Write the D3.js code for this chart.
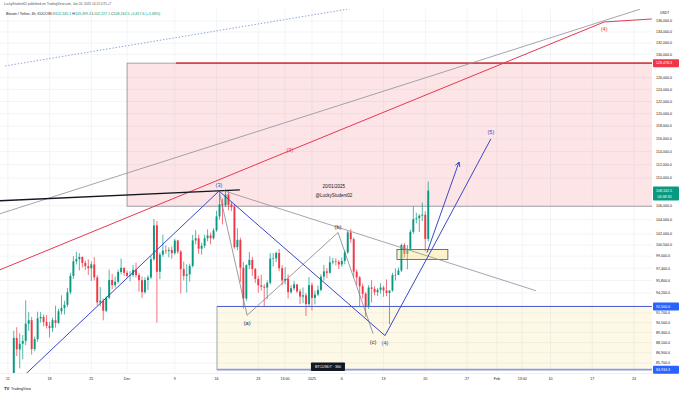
<!DOCTYPE html>
<html lang="en">
<head>
<meta charset="UTF-8">
<title>BTCUSDT 4h - wave count</title>
<script src="https://cdn.jsdelivr.net/npm/d3@7"></script>
<style>
  body { margin: 0; background: #fff; overflow: hidden; }
  svg { display: block; font-family: "Liberation Sans", Arial, sans-serif; }
</style>
</head>
<body>
<svg id="chart" width="680" height="394"></svg>
<script>
// 12h candles, first bar opens Nov 11 12:00 (chart time, UTC+7)
const candleStart = Date.UTC(2024, 10, 11, 12);
const candleStep = 12 * 3600 * 1000;

const candleOpen = [
  80370, 81900, 88648, 87300, 87952, 88300, 90375, 90800, 87325, 88500,
  91032, 91200, 90586, 90100, 89855, 90800, 90464, 91900, 92310, 92700,
  94286, 96400, 98317, 98600, 98892, 98100, 97673, 97400, 97900, 96200,
  93010, 93200, 91965, 93600, 95863, 95200, 95643, 96900, 97460, 96800,
  96407, 96500, 97185, 96500, 95840, 94300, 95865, 96200, 98587, 103200,
  96945, 99200, 99741, 99700, 99831, 99400, 101109, 99600, 97277, 96400,
  96594, 97700, 101125, 101400, 100004, 100400, 101424, 101800, 101420, 102500,
  104463, 106200, 106058, 107600, 106133, 105800, 100204, 101200, 97461, 93500,
  97805, 98500, 97291, 96000, 95186, 95000, 94881, 95500, 98663, 98700,
  99430, 97400, 95792, 96000, 94299, 94800, 95300, 94400, 93738, 93900,
  92792, 95200, 93576, 94000, 94591, 96300, 96984, 96800, 98174, 98300,
  98236, 97900, 98363, 99500, 102235, 101300, 96954, 96200, 95060, 94100,
  92552, 94900, 94726, 94300, 94599, 94900, 94511, 94200, 94519, 96500,
  96534, 97100, 100504, 99300, 99987, 102300, 104077, 104200, 104556, 104700,
  101335
];
const candleHigh = [
  82500, 89530, 89940, 89200, 89000, 93265, 91790, 91200, 88800, 91850,
  91779, 91500, 91449, 90600, 91100, 92594, 92200, 93905, 93200, 94831,
  96800, 98988, 99588, 99400, 98960, 98400, 98565, 98300, 98871, 96500,
  94973, 93500, 93800, 97208, 96650, 96300, 97200, 98693, 97463, 97100,
  97000, 97836, 98130, 96800, 96305, 96200, 96500, 99000, 104088, 103800,
  99500, 101898, 100439, 100200, 100300, 101351, 101215, 99800, 98270, 97900,
  98000, 101888, 102540, 101900, 100800, 101895, 102650, 102200, 102800, 105250,
  107793, 107000, 108353, 108100, 106525, 106200, 102800, 101500, 98233, 97900,
  99540, 98900, 97448, 96400, 96538, 95300, 95800, 99416, 99400, 99569,
  99963, 97800, 97544, 96600, 95200, 95757, 95300, 94700, 94903, 94200,
  96250, 95500, 94500, 95151, 96600, 97839, 97400, 98976, 98778, 98700,
  98500, 98813, 99800, 102480, 102724, 101500, 97259, 96400, 95382, 94300,
  95200, 95837, 95050, 94800, 95450, 95100, 95940, 94500, 96800, 97371,
  97500, 100681, 100782, 100500, 102600, 105865, 104988, 104800, 106422, 105200,
  109499
];
const candleLow = [
  80216, 81500, 86500, 85072, 86127, 87800, 89500, 86668, 87073, 88200,
  90500, 90056, 89800, 88722, 89376, 89900, 90357, 91500, 91500, 92400,
  94020, 96000, 97900, 97122, 97500, 97156, 96500, 95734, 95800, 92600,
  92500, 90791, 91792, 93400, 94677, 94900, 95407, 96600, 96400, 96150,
  95693, 96300, 96200, 94395, 93578, 94100, 94587, 96000, 98400, 90500,
  95981, 98900, 99300, 98844, 98657, 99200, 99300, 94150, 95800, 94256,
  95658, 97500, 100600, 99311, 99205, 100100, 101000, 100610, 101237, 102300,
  104000, 103333, 105800, 105321, 105200, 100000, 99800, 95587, 92232, 93200,
  97300, 96398, 95500, 94250, 94500, 92520, 93400, 95300, 97632, 98200,
  97000, 95199, 95300, 93500, 94110, 94500, 94200, 92800, 92900, 91317,
  92500, 92000, 92742, 93800, 94392, 95800, 96100, 96700, 97900, 97781,
  97291, 97600, 97920, 99300, 100800, 96181, 95200, 92500, 93500, 91203,
  92206, 93000, 93900, 93831, 94100, 93712, 93800, 90300, 94346, 95800,
  96500, 96900, 98800, 97266, 99950, 102000, 103500, 102277, 103800, 99651,
  101000
];
const candleClose = [
  81900, 88648, 87300, 87952, 88300, 90375, 90800, 87325, 88500, 91032,
  91200, 90586, 90100, 89855, 90800, 90464, 91900, 92310, 92700, 94286,
  96400, 98317, 98600, 98892, 98100, 97673, 97400, 97900, 96200, 93010,
  93200, 91965, 93600, 95863, 95200, 95643, 96900, 97460, 96800, 96407,
  96500, 97185, 96500, 95840, 94300, 95865, 96200, 98587, 103200, 96945,
  99200, 99741, 99700, 99831, 99400, 101109, 99600, 97277, 96400, 96594,
  97700, 101125, 101400, 100004, 100400, 101424, 101800, 101420, 102500, 104463,
  106200, 106058, 107600, 106133, 105800, 100204, 101200, 97461, 93500, 97805,
  98500, 97291, 96000, 95186, 95000, 94881, 95500, 98663, 98700, 99430,
  97400, 95792, 96000, 94299, 94800, 95300, 94400, 93738, 93900, 92792,
  95200, 93576, 94000, 94591, 96300, 96984, 96800, 98174, 98300, 98236,
  97900, 98363, 99500, 102235, 101300, 96954, 96200, 95060, 94100, 92552,
  94900, 94726, 94300, 94599, 94900, 94511, 94200, 94519, 96500, 96534,
  97100, 100504, 99300, 99987, 102300, 104077, 104200, 104556, 104700, 101335,
  108162.5
];

// axis labels
const priceTicks = [136000, 134000, 132000, 130000, 126000, 124000, 122000, 120000, 118000,
  116000, 114000, 112000, 110000, 106000, 104000, 102000, 100500, 99000, 97400, 95800,
  94200, 91700, 90500, 89300, 88100, 86900, 85700];
const timeTicks = [
  ["2024-11-11T00:00Z", "11"], ["2024-11-18T00:00Z", "18"], ["2024-11-25T00:00Z", "25"],
  ["2024-12-01T00:00Z", "Dec"], ["2024-12-09T00:00Z", "9"], ["2024-12-16T00:00Z", "16"],
  ["2024-12-23T00:00Z", "23"], ["2024-12-27T12:00Z", "13:00"], ["2025-01-01T00:00Z", "2025"],
  ["2025-01-06T00:00Z", "6"], ["2025-01-13T00:00Z", "13"], ["2025-01-20T00:00Z", "20"],
  ["2025-01-27T00:00Z", "27"], ["2025-02-01T00:00Z", "Feb"], ["2025-02-05T06:00Z", "13:00"],
  ["2025-02-10T00:00Z", "10"], ["2025-02-17T00:00Z", "17"], ["2025-02-24T00:00Z", "24"]
];
// price tags on the right scale: value, second line
const tagPrices = [128478.3, 108162.5, 92500, 84934.3];
const tagSub = ["", "04:38:33", "", ""];

// drawings: [time, price]
const impulsePts = [["2024-11-13T08:00Z", 84000], ["2024-12-16T10:00Z", 108100],
  ["2025-01-13T06:00Z", 88930], ["2025-01-20T11:00Z", 98960], ["2025-01-31T00:00Z", 115980]];
const impulseLabels = ["", "(3)", "(4)", "", "(5)"];
const abcPts = [["2024-12-16T10:00Z", 108100], ["2024-12-21T03:00Z", 91400],
  ["2025-01-05T09:00Z", 102210], ["2025-01-11T06:00Z", 89170]];
const abcLabels = ["", "(a)", "(b)", "(c)"];
const arrowPts = [["2025-01-20T07:00Z", 99490], ["2025-01-25T16:00Z", 112420]];
const redPts = [["2024-11-09T16:00Z", 97190], ["2024-12-28T07:00Z", 114160],
  ["2025-02-19T00:00Z", 135820], ["2025-02-27T00:00Z", 136370]];
const redLabels = ["", "(3)", "(4)", ""];
const greyTrend = [["2024-11-09T16:00Z", 104830], ["2025-02-25T00:00Z", 138180]];
const downTrend = [["2024-12-17T06:00Z", 108130], ["2025-02-07T14:00Z", 94480]];
const blackTrend = [["2024-11-09T16:00Z", 106690], ["2024-12-19T22:00Z", 108270]];
const dottedTrend = [["2024-11-10T13:00Z", 127990], ["2025-01-08T05:00Z", 138420]];

// zones: [start, end, low, high]
const sellZone = ["2024-12-01T00:00Z", "2025-03-10T00:00Z", 105900, 128478.3];
const buyZone = ["2024-12-16T02:00Z", "2025-03-10T00:00Z", 84934.3, 92500];
const smallBox = ["2025-01-15T06:00Z", "2025-01-23T19:00Z", 98570, 99900];
// horizontal rays: [start, price]
const rays = [["2024-12-09T05:00Z", 128478.3], ["2024-12-16T02:00Z", 92500], ["2024-12-16T02:00Z", 84934.3]];

const W = 680, H = 394;
const pane = { left: 0, right: 652, top: 9, bottom: 373 };
const T = s => new Date(s);
const up = "#089981", down = "#f23645", blue = "#3949c8";

const x = d3.scaleUtc()
  .domain([T("2024-11-11T00:00Z"), T("2025-02-24T00:00Z")])
  .range([7.8, 634]);
const y = d3.scaleLog()
  .domain([84550, 138220])
  .range([pane.bottom, pane.top]);

const svg = d3.select("#chart");
svg.append("rect").attr("width", W).attr("height", H).attr("fill", "#fff");
svg.append("defs").append("clipPath").attr("id", "pane").append("rect")
  .attr("x", pane.left).attr("y", pane.top)
  .attr("width", pane.right - pane.left).attr("height", pane.bottom - pane.top);

const g = svg.append("g").attr("clip-path", "url(#pane)");

// grid
g.selectAll("line.vgrid").data(timeTicks).join("line").attr("class", "vgrid")
  .attr("x1", d => x(T(d[0]))).attr("x2", d => x(T(d[0])))
  .attr("y1", pane.top).attr("y2", pane.bottom)
  .attr("stroke", "#eff1f5").attr("stroke-width", 0.8);
g.selectAll("line.hgrid").data(priceTicks).join("line").attr("class", "hgrid")
  .attr("x1", pane.left).attr("x2", pane.right)
  .attr("y1", d => y(d)).attr("y2", d => y(d))
  .attr("stroke", "#eff1f5").attr("stroke-width", 0.8);

// zones
function zone(z, fill, stroke) {
  g.append("rect")
    .attr("x", x(T(z[0]))).attr("y", y(z[3]))
    .attr("width", x(T(z[1])) - x(T(z[0])))
    .attr("height", y(z[2]) - y(z[3]))
    .attr("fill", fill).attr("stroke", stroke).attr("stroke-width", 0.8);
}
zone(sellZone, "rgba(242,54,69,0.13)", "#8f9199");
zone(buyZone, "rgba(251,200,60,0.13)", "#9598a1");

// candles
const candles = candleOpen.map((o, i) => ({
  t: new Date(candleStart + i * candleStep),
  o, h: candleHigh[i], l: candleLow[i], c: candleClose[i]
}));
const cg = g.append("g");
cg.selectAll("line.wick").data(candles).join("line").attr("class", "wick")
  .attr("x1", d => x(d.t)).attr("x2", d => x(d.t))
  .attr("y1", d => y(d.h)).attr("y2", d => y(d.l))
  .attr("stroke", d => d.c >= d.o ? up : down).attr("stroke-width", 0.7);
cg.selectAll("rect.body").data(candles).join("rect").attr("class", "body")
  .attr("x", d => x(d.t) - 0.95).attr("width", 1.9)
  .attr("y", d => y(Math.max(d.o, d.c)))
  .attr("height", d => Math.max(0.6, y(Math.min(d.o, d.c)) - y(Math.max(d.o, d.c))))
  .attr("fill", d => d.c >= d.o ? up : down);

zone(smallBox, "rgba(250,220,110,0.35)", "#50535e");

// rays
const rayColors = ["#d9424f", "#4c5fc9", "#8e9be0"];
const rayWidths = [1.6, 1, 1.6];
rays.forEach((r, i) => {
  g.append("line")
    .attr("x1", x(T(r[0]))).attr("x2", pane.right)
    .attr("y1", y(r[1])).attr("y2", y(r[1]))
    .attr("stroke", rayColors[i]).attr("stroke-width", rayWidths[i]);
});

// trend lines
const line = d3.line().x(d => x(T(d[0]))).y(d => y(d[1]));
function path(pts, color, width, dash) {
  g.append("path").attr("d", line(pts)).attr("fill", "none")
    .attr("stroke", color).attr("stroke-width", width)
    .attr("stroke-dasharray", dash || null);
}
path(dottedTrend, "#8aa3d6", 1, "1.4 1.8");
path(greyTrend, "#8c8f99", 0.8);
path(redPts, "#e8384f", 1);
path(blackTrend, "#131722", 1.3);
path(downTrend, "#8c8f99", 0.8);
path(abcPts, "#6f727c", 0.7);
path(impulsePts, blue, 1);
path(arrowPts, blue, 1);

// arrow head
const a0 = [x(T(arrowPts[0][0])), y(arrowPts[0][1])];
const a1 = [x(T(arrowPts[1][0])), y(arrowPts[1][1])];
const ang = Math.atan2(a1[1] - a0[1], a1[0] - a0[0]);
[0.5, -0.5].forEach(da => {
  g.append("line")
    .attr("x1", a1[0]).attr("y1", a1[1])
    .attr("x2", a1[0] - 5 * Math.cos(ang + da)).attr("y2", a1[1] - 5 * Math.sin(ang + da))
    .attr("stroke", blue).attr("stroke-width", 1);
});

// wave labels
function waveText(pts, labels, color, sides) {
  pts.forEach((p, i) => {
    if (!labels[i]) return;
    g.append("text")
      .attr("x", x(T(p[0]))).attr("y", y(p[1]) + sides[i])
      .attr("text-anchor", "middle").attr("font-size", 5.6)
      .attr("fill", color).text(labels[i]);
  });
}
waveText(impulsePts, impulseLabels, blue, [0, -4, 9.5, 0, -4.5]);
waveText(abcPts, abcLabels, "#2a2e39", [0, 10, -4, 10.5]);
waveText(redPts, redLabels, "#e8384f", [0, 1.5, 9.5, 0]);

// author note
const noteX = x(T("2025-01-04T16:00Z"));
g.append("text").attr("x", noteX).attr("y", y(108600)).attr("text-anchor", "middle")
  .attr("font-size", 4.5).attr("fill", "#131722").text("20/01/2025");
g.append("text").attr("x", noteX).attr("y", y(108600) + 9).attr("text-anchor", "middle")
  .attr("font-size", 4.5).attr("fill", "#131722").text("@LuckyStudent02");

// symbol badge
const bx = x(T("2024-12-31T20:00Z")), by = y(85760);
g.append("rect").attr("x", bx).attr("y", by).attr("width", 34).attr("height", 8.5)
  .attr("fill", "#131722").attr("rx", 0.8);
g.append("text").attr("x", bx + 17).attr("y", by + 5.9).attr("text-anchor", "middle")
  .attr("font-size", 3.6).attr("fill", "#fff").text("BTCUSDT · 360");

// axes frame
svg.append("line").attr("x1", pane.left).attr("x2", W).attr("y1", pane.bottom + 0.5).attr("y2", pane.bottom + 0.5)
  .attr("stroke", "#e6e8ee").attr("stroke-width", 0.6);

// price axis
const fmt = d3.format(",.1f");
svg.append("g").selectAll("text").data(priceTicks).join("text")
  .attr("x", 656).attr("y", d => y(d) + 1.3)
  .attr("font-size", 3.6).attr("fill", "#131722").text(d => fmt(d));
svg.append("text").attr("x", 660).attr("y", 13.5).attr("font-size", 3.4)
  .attr("fill", "#131722").text("USDT");

const tagColors = ["#f23645", "#089981", "#2962ff", "#2962ff"];
tagPrices.forEach((v, i) => {
  const h = tagSub[i] ? 14 : 8;
  svg.append("rect").attr("x", 653).attr("y", y(v) - 4).attr("width", 26).attr("height", h)
    .attr("rx", 0.8).attr("fill", tagColors[i]);
  svg.append("text").attr("x", 656).attr("y", y(v) + 1.3).attr("font-size", 3.6)
    .attr("fill", "#fff").text(fmt(v));
  if (tagSub[i]) {
    svg.append("text").attr("x", 657.5).attr("y", y(v) + 7.5).attr("font-size", 3.6)
      .attr("fill", "#fff").text(tagSub[i]);
  }
});

// time axis
svg.append("g").selectAll("text").data(timeTicks).join("text")
  .attr("x", d => x(T(d[0]))).attr("y", 380)
  .attr("text-anchor", "middle").attr("font-size", 3.6).attr("fill", "#131722")
  .text(d => d[1]);

// header
svg.append("text").attr("x", 4).attr("y", 5.3).attr("font-size", 3.2).attr("fill", "#50535e")
  .text("LuckyStudent02 published on TradingView.com, Jan 20, 2025 14:21 UTC+7");
const legend = svg.append("text").attr("x", 6).attr("y", 15).attr("font-size", 3.6).attr("fill", "#131722");
legend.append("tspan").text("Bitcoin / Tether, 4h, KUCOIN  ");
const ohlc = [["O", "102,345.1"], ["H", "109,499.3"], ["L", "102,227.1"], ["C", "108,162.5"], ["", "+5,817.6 (+5.68%)"]];
ohlc.forEach(p => {
  legend.append("tspan").text(p[0]);
  legend.append("tspan").attr("fill", up).text(p[1] + "  ");
});

// footer logo
svg.append("text").attr("x", 4).attr("y", 390).attr("font-size", 4.2).attr("font-weight", "bold")
  .attr("fill", "#131722").text("TV");
svg.append("text").attr("x", 11).attr("y", 390).attr("font-size", 3.6)
  .attr("fill", "#131722").text("TradingView");
</script>
</body>
</html>
